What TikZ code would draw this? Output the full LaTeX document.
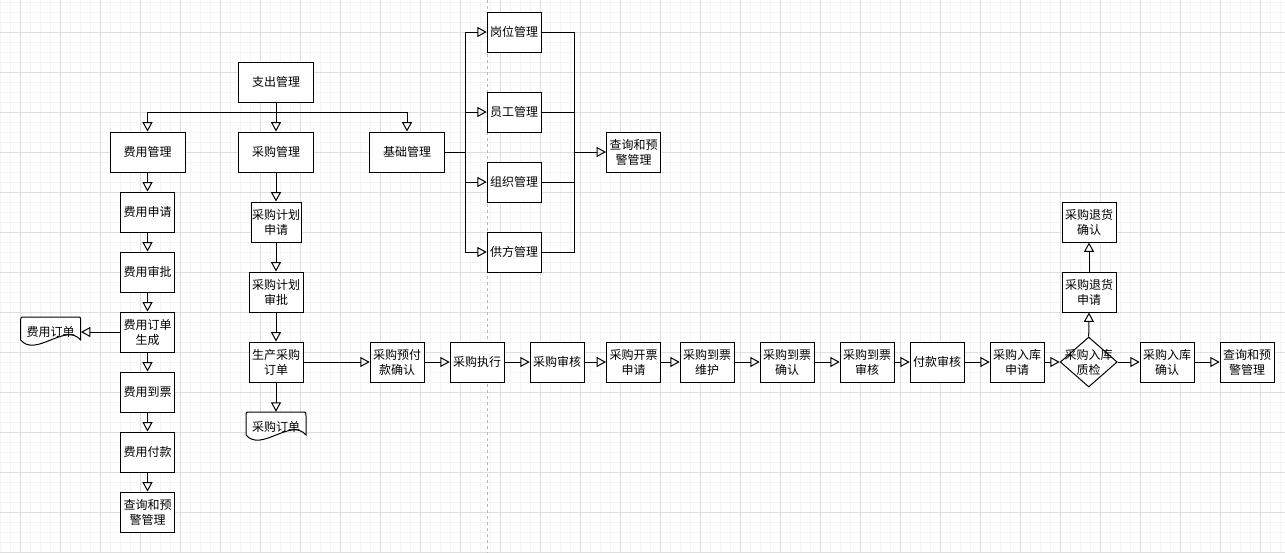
\documentclass[tikz,border=0pt]{standalone}
\usepackage{fontspec}
\setmainfont{Noto Sans CJK SC}
\usepackage{xcolor}
\usepackage{tikz}
\usetikzlibrary{arrows.meta,shapes.geometric}
\definecolor{gridmajor}{HTML}{DEDEDE}
\definecolor{gridminor}{HTML}{F4F4F4}
\definecolor{pagebreak}{HTML}{B8B8B8}

\begin{document}
\begin{tikzpicture}[x=0.75pt, y=-0.75pt,
  font=\fontsize{9}{11.25}\selectfont,
  procbox/.style={draw, fill=white, line width=0.75pt, inner sep=0pt, minimum width=40.5pt, minimum height=30pt, align=center},
  widebox/.style={procbox, minimum width=56.25pt},
  checkbox/.style={diamond, draw, fill=white, line width=0.75pt, inner sep=0pt, minimum width=42.75pt, minimum height=37.5pt},
  docbox/.style={inner sep=0pt, minimum width=45pt, minimum height=22.5pt},
  docline/.style={line width=0.75pt, draw=black, fill=white},
  flow/.style={line width=0.75pt, -{Triangle[open, length=7pt, width=7.5pt]}},
  link/.style={line width=0.75pt},
]
\useasboundingbox (0,0) rectangle (1285,553);
\fill[white] (0,0) rectangle (1285,553);
% background grid: 10px minor, 40px major
\foreach \x in {0,10,...,1280} \draw[gridminor, line width=0.75pt] (\x,0) -- (\x,553);
\foreach \y in {2.3,12.3,...,552.3} \draw[gridminor, line width=0.75pt] (0,\y) -- (1285,\y);
\foreach \x in {20,60,...,1260} \draw[gridmajor, line width=0.75pt] (\x,0) -- (\x,553);
\foreach \y in {32.3,72.3,...,552.3} \draw[gridmajor, line width=0.75pt] (0,\y) -- (1285,\y);
% page break
\draw[pagebreak, line width=0.75pt, dash pattern=on 2.25pt off 2.25pt] (487.3,0) -- (487.3,553);

% document outline (centre x, centre y)
\def\docpath#1#2{%
  \draw[docline] ({#1-30},{#2+8}) -- ({#1-30},{#2-11})
    .. controls ({#1-30},{#2-15}) .. ({#1-26},{#2-15}) -- ({#1+26},{#2-15})
    .. controls ({#1+30},{#2-15}) .. ({#1+30},{#2-11}) -- ({#1+30},{#2+8})
    .. controls ({#1+15},{#2-10}) and ({#1-15},{#2+26}) .. ({#1-30},{#2+8}) -- cycle;}

% top level
\node[widebox] (zc) at (276,82) {支出管理};
\node[widebox] (fy) at (147.5,152) {费用管理};
\node[widebox] (cg) at (276,152) {采购管理};
\node[widebox] (jc) at (407,152) {基础管理};

% fee column
\node[procbox] (fysq)  at (147.5,212) {费用申请};
\node[procbox] (fysp)  at (147.5,272) {费用审批};
\node[procbox] (fyscd) at (147.5,332) {费用订单\\生成};
\node[procbox] (fydp)  at (147.5,392) {费用到票};
\node[procbox] (fyfk)  at (147.5,452) {费用付款};
\node[procbox] (fycx)  at (147.5,512) {查询和预\\警管理};
\docpath{50.7}{332}
\node[docbox] (fydd) at (50.7,332) {费用订单};

% purchase column
\node[procbox, minimum width=37.5pt] (cgjh) at (276,222) {采购计划\\申请};
\node[procbox] (cgsp) at (276,292) {采购计划\\审批};
\node[procbox] (scdd) at (276,362) {生产采购\\订单};
\docpath{276}{427}
\node[docbox] (cgdd) at (276,427) {采购订单};

% purchase flow
\node[procbox] (yfk)  at (397.2,362)  {采购预付\\款确认};
\node[procbox] (zx)   at (477.2,362)  {采购执行};
\node[procbox] (sh)   at (557.2,362)  {采购审核};
\node[procbox] (kp)   at (633.5,362)  {采购开票\\申请};
\node[procbox] (dpwh) at (707.2,362)  {采购到票\\维护};
\node[procbox] (dpqr) at (787.2,362)  {采购到票\\确认};
\node[procbox] (dpsh) at (867.2,362)  {采购到票\\审核};
\node[procbox] (fksh) at (937.2,362)  {付款审核};
\node[procbox] (rksq) at (1017.2,362) {采购入库\\申请};
\node[checkbox, label={[align=center]center:{采购入库\\质检}}] (zj) at (1088.7,362) {};
\node[procbox] (rkqr) at (1167.2,362) {采购入库\\确认};
\node[procbox] (cx2)  at (1247.2,362) {查询和预\\警管理};
\node[procbox] (thsq) at (1089,292) {采购退货\\申请};
\node[procbox] (thqr) at (1089,222) {采购退货\\确认};

% base management
\node[procbox] (gw)  at (514.2,32)  {岗位管理};
\node[procbox] (yg)  at (514.2,112) {员工管理};
\node[procbox] (zz)  at (514.2,182) {组织管理};
\node[procbox] (gf)  at (514.2,252) {供方管理};
\node[procbox] (cx1) at (633.5,152) {查询和预\\警管理};
\coordinate (busL) at (465.7,152);
\coordinate (busR) at (574,152);

% connectors
\draw[flow] (zc.south) -- ++(0,10.3) -| (fy.north);
\draw[flow] (zc.south) -- (cg.north);
\draw[flow] (zc.south) -- ++(0,10.3) -| (jc.north);

\draw[flow] (fy) -- (fysq);
\draw[flow] (fysq) -- (fysp);
\draw[flow] (fysp) -- (fyscd);
\draw[flow] (fyscd) -- (fydp);
\draw[flow] (fydp) -- (fyfk);
\draw[flow] (fyfk) -- (fycx);
\draw[flow] (fyscd.west) -- (fydd.east);

\draw[flow] (cg) -- (cgjh);
\draw[flow] (cgjh) -- (cgsp);
\draw[flow] (cgsp) -- (scdd);
\draw[flow] (scdd.south) -- (cgdd.north);

\draw[flow] (scdd.east) -- (yfk.west);
\draw[flow] (yfk) -- (zx);
\draw[flow] (zx) -- (sh);
\draw[flow] (sh) -- (kp);
\draw[flow] (kp) -- (dpwh);
\draw[flow] (dpwh) -- (dpqr);
\draw[flow] (dpqr) -- (dpsh);
\draw[flow] (dpsh) -- (fksh);
\draw[flow] (fksh) -- (rksq);
\draw[flow] (rksq.east) -- (zj.west);
\draw[flow] (zj.east) -- (rkqr.west);
\draw[flow] (rkqr) -- (cx2);
\draw[flow] (zj.north) -- (thsq.south);
\draw[flow] (thsq) -- (thqr);

\draw[link] (jc.east) -- (busL);
\foreach \n in {gw,yg,zz,gf} {
  \draw[flow] (busL) |- (\n.west);
  \draw[link] (\n.east) -| (busR);
}
\draw[flow] (busR) -- (cx1.west);
\end{tikzpicture}
\end{document}
